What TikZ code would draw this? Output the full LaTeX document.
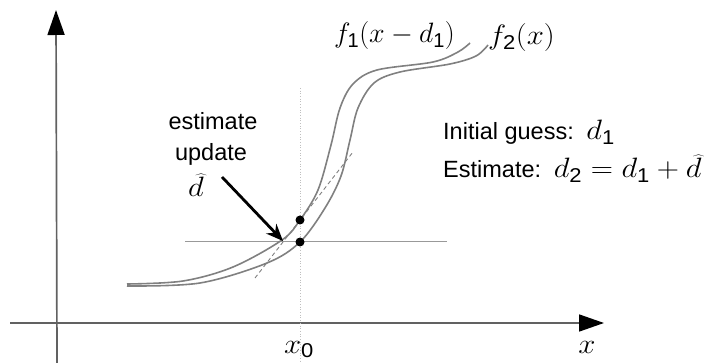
\RequirePackage{fix-cm}
\documentclass[tikz,border=0pt]{standalone}
\usepackage{graphicx}
\usepackage{fontspec}
\setmainfont{Liberation Sans}
\usetikzlibrary{arrows.meta}
\newcommand{\dsub}[1]{\hbox{\fontsize{20}{20}\selectfont #1}}
\newcommand{\mymath}[2][1.1]{{\fontsize{28}{32}\selectfont\scalebox{#1}[1]{$#2$}}}
\begin{document}
\begin{tikzpicture}[x=1pt,y=-1pt,
  axis/.style={draw=black!62, line width=1.7pt},
  curve/.style={draw=black!50, line width=1.6pt},
  guide/.style={draw=black!40, line width=0.9pt},
  vdot/.style={draw=black!25, line width=0.7pt, dotted},
  tangent/.style={draw=black!50, line width=0.9pt, dash pattern=on 4pt off 3pt},
  txt/.style={inner sep=0pt, font=\fontsize{23.5}{28}\selectfont},
  mth/.style={inner sep=0pt},
  pt/.style={circle, fill=black, inner sep=0pt, minimum size=9pt},
  tip/.style={-{Triangle[length=25pt,width=17pt,color=black]}}]
\useasboundingbox (0,0) rectangle (715,363);
% axes
\coordinate (yb) at (57,363);
\coordinate (yt) at (56,10);
\coordinate (xl) at (10,323);
\coordinate (xr) at (604,323);
\draw[axis,tip] (yb) -- (yt);
\draw[axis,tip] (xl) -- (xr);
% guides
\coordinate (vt) at (300,88);
\coordinate (vb) at (300,363);
\draw[vdot] (vt) -- (vb);
\coordinate (hl) at (185,241);
\coordinate (hr) at (447,241);
\draw[guide] (hl) -- (hr);
% tangent
\coordinate (ta) at (255,278);
\coordinate (tb) at (353,152);
\draw[tangent] (ta) -- (tb);
% curves
\draw[curve] plot[smooth, tension=0.55] coordinates {(127,284) (183,281) (233,267) (282,240) (300,220) (318,190) (331,145) (340,108) (353,84) (377,70) (433,62) (458,52) (470,43)};
\draw[curve] plot[smooth, tension=0.55] coordinates {(127,286) (200,283) (267,263) (300,242) (325,208) (341,176) (350,140) (358,108) (374,83) (400,72) (450,64) (476,56) (488,45)};
% points
\node[pt] (p1) at (300,220) {};
\node[pt] (p2) at (300,242) {};
% arrow
\coordinate (aa) at (222,177);
\coordinate (ab) at (283,241);
\draw[line width=2.8pt, -{Stealth[length=17pt,width=14pt]}] (aa) -- (ab);
% labels
\node[txt, anchor=base] (est) at (213,130) {estimate};
\node[txt, anchor=base] (upd) at (211,161) {update};
\node[mth, anchor=base] (dh) at (196,197) {\mymath{\widehat{d}}};
\node[mth, anchor=base east] (f1) at (455,43) {\mymath[1.0]{f_{\dsub{1}}(x-d_{\dsub{1}})}};
\node[mth, anchor=base west] (f2) at (488,45) {\mymath{f_{\dsub{2}}(x)}};
\node[txt, anchor=base west] (ig) at (443,140) {Initial guess:\, \mymath{d_{\dsub{1}}}};
\node[txt, anchor=base west] (es) at (443,178) {Estimate:\, \mymath{d_{\dsub{2}}=d_{\dsub{1}}+\widehat{d}}};
\node[mth, anchor=base] (x0) at (299,353) {\mymath{x_{\dsub{0}}}};
\node[mth, anchor=base] (xx) at (587,353) {\mymath{x}};
\end{tikzpicture}
\end{document}
